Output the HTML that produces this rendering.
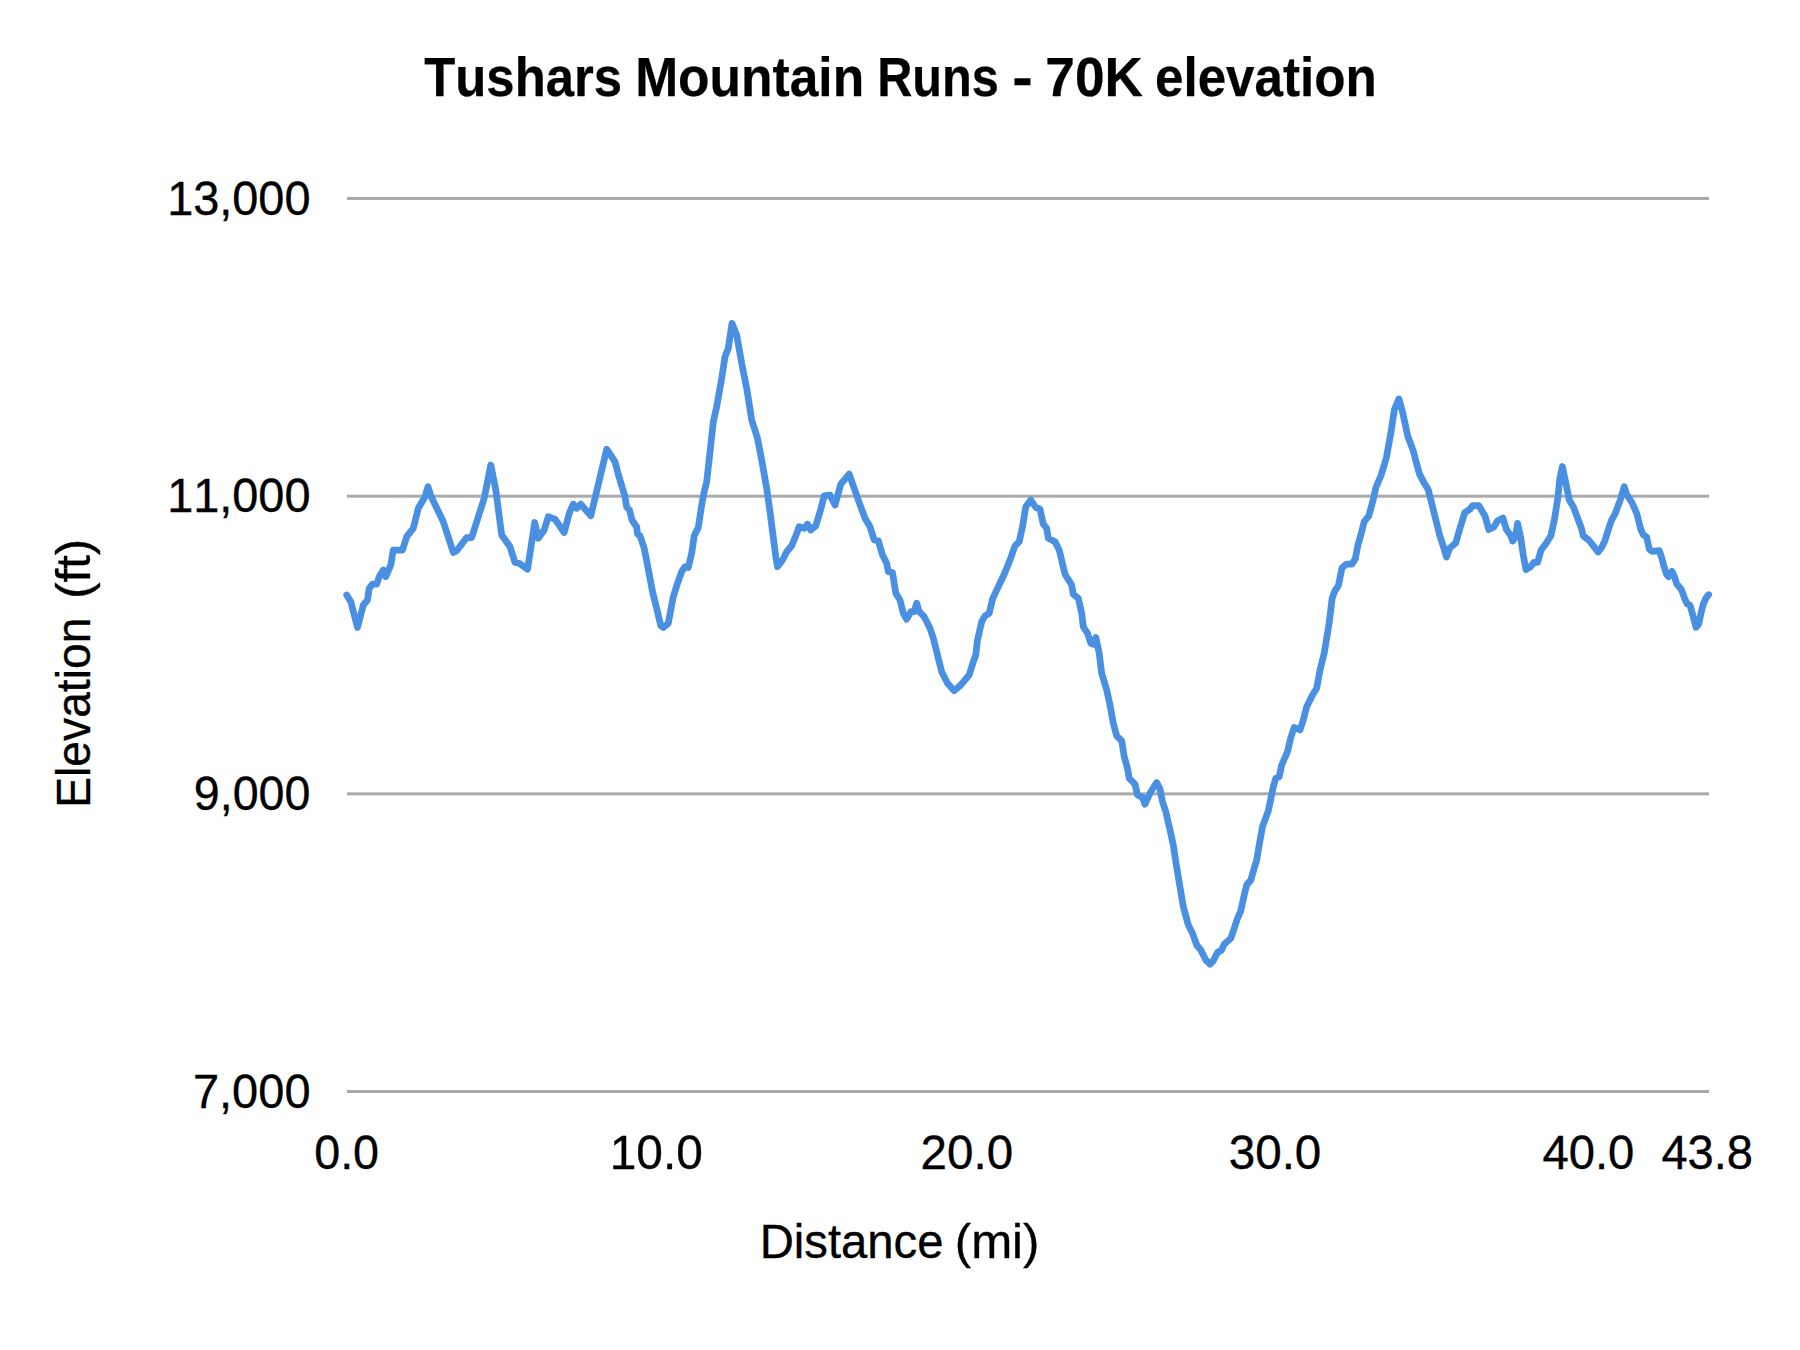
<!DOCTYPE html>
<html lang="en">
<head>
<meta charset="utf-8">
<title>Tushars Mountain Runs - 70K elevation</title>
<style>
html,body{margin:0;padding:0;background:#fff;}
body{width:1800px;height:1350px;overflow:hidden;}
svg{display:block;}
text{font-family:"Liberation Sans",Arial,Helvetica,sans-serif;fill:#000;font-kerning:none;font-size:48.2px;stroke:#000;stroke-width:0.35px;stroke-linejoin:round;}
.title text{font-weight:bold;font-size:55.1px;stroke-width:0.25px;}
</style>
</head>
<body>
<svg width="1800" height="1350" viewBox="0 0 1800 1350">
<rect x="0" y="0" width="1800" height="1350" fill="#ffffff"/>
<g class="title">
<text y="96"><tspan x="424.23" textLength="197.86" lengthAdjust="spacingAndGlyphs">Tushars</tspan> <tspan x="635.15" textLength="229.04" lengthAdjust="spacingAndGlyphs">Mountain</tspan> <tspan x="877.14" textLength="121.65" lengthAdjust="spacingAndGlyphs">Runs</tspan> <tspan x="1012.20" textLength="20.46" lengthAdjust="spacingAndGlyphs">-</tspan> <tspan x="1045.31" textLength="97.58" lengthAdjust="spacingAndGlyphs">70K</tspan> <tspan x="1155.00" textLength="221.77" lengthAdjust="spacingAndGlyphs">elevation</tspan></text>
</g>
<g class="grid">
<rect x="347" y="197.00" width="1362" height="3" fill="#aaaaaa"/>
<rect x="347" y="494.70" width="1362" height="3" fill="#aaaaaa"/>
<rect x="347" y="792.35" width="1362" height="3" fill="#aaaaaa"/>
<rect x="347" y="1090.00" width="1362" height="3" fill="#aaaaaa"/>
</g>
<g class="yaxis">
<text transform="translate(167.13,214.9) scale(0.9727,1)">13,000</text>
<text transform="translate(167.13,511.8) scale(0.9727,1)">11,000</text>
<text transform="translate(193.81,809.7) scale(0.9676,1)">9,000</text>
<text transform="translate(192.89,1107.7) scale(0.9754,1)">7,000</text>
</g>
<g class="xaxis">
<text transform="translate(314.17,1168.6) scale(0.9693,1)">0.0</text>
<text transform="translate(609.65,1168.6) scale(0.9937,1)">10.0</text>
<text transform="translate(920.61,1168.6) scale(0.9860,1)">20.0</text>
<text transform="translate(1228.69,1168.6) scale(0.9879,1)">30.0</text>
<text transform="translate(1542.42,1168.6) scale(0.9799,1)">40.0</text>
<text transform="translate(1661.42,1168.6) scale(0.9767,1)">43.8</text>
</g>
<g class="axis-titles">
<text y="1258.3"><tspan x="759.73" textLength="183.77" lengthAdjust="spacingAndGlyphs">Distance</tspan> <tspan x="954.75" textLength="84.70" lengthAdjust="spacingAndGlyphs">(mi)</tspan></text>
<text transform="translate(90.2,0) rotate(-90)" y="0"><tspan x="-807.79" textLength="190.20" lengthAdjust="spacingAndGlyphs">Elevation</tspan> <tspan x="-598.85" textLength="60.10" lengthAdjust="spacingAndGlyphs">(ft)</tspan></text>
</g>
<polyline fill="none" stroke="#4a90e2" stroke-width="6.75" stroke-linejoin="round" stroke-linecap="round" points="346.7,595 350.8,601.7 357.5,627.5 363.3,605 367.5,600 369.2,588.3 372.5,584.2 376.7,584.2 379.2,576.7 383.3,570 385.8,576.7 390.8,565 393.3,550 402.5,550 406.7,536.7 413.3,528.3 418.3,508.3 425,496.7 428,486.7 430.8,495.8 443.3,521.7 453.3,552.5 456.7,550.8 466.7,537.5 471.7,537.5 478.3,516.7 484.2,498.3 490.8,465 495.8,490 501.7,535 510,546.7 515,562.5 519.2,563.3 527.5,569.2 530.8,548.3 534.7,522.5 538.3,538.3 544.2,530 548.3,516.7 555,519.2 564.2,532.5 569.2,513.3 573.3,504.2 576.7,508.3 580.8,504.2 590.8,515.8 595,498.3 606.7,449.2 615,461.7 618.2,474 625,496.7 626.7,507 629.5,510 632,520 636.7,527 637.5,534 640,535.8 644.2,548.3 647.5,565 652.5,591.7 656.7,608.3 660.8,625.8 663.3,627.5 668.3,623.3 671.7,605 673.3,596.7 677.5,583.3 681.7,571.7 685,566.7 688.3,567.5 691.7,553.3 694.2,535.8 698.3,527.5 701.7,505 704.2,491.7 706.7,481.7 710.8,445 713.3,421.7 716.7,406.7 721.7,378.3 725,356.7 728.3,348.3 732,323.3 736.7,335 741.7,363.3 746.7,388.3 751.7,420 757.5,438.3 761.7,460 766.7,488.3 770,511.7 771.7,525 775.8,556.7 777.5,566.7 782.5,560 786.7,551.7 791.7,545.8 795.8,535.8 799.2,526.7 804.2,528.3 807.5,524.2 810.8,530 815.8,525.8 820.8,509.2 824.2,495.8 830,495 835,505 840.8,484.2 849.2,474.2 858.3,500 865,518.3 870,526.7 874.2,540 878.3,540.8 882.5,555 886.7,563.3 888.3,571.7 892.5,572.5 895.8,593.3 900,600 903.3,613.3 906.7,619.2 910.8,611.7 914.2,611.7 916.7,603.3 919.2,611.7 924.2,616.7 930,628.3 933.3,638.3 938.3,658.3 941.7,671.7 947.5,683.3 954.2,690.8 960,685.8 964.2,680.8 969.2,675 973.3,661.7 975.8,655 977.5,640 981.7,621.7 985,615.8 989.2,613.3 992.5,599.2 998.3,586.7 1004.2,574.2 1010,560 1015,545.8 1019.2,541.7 1022.5,526.7 1025.8,506.7 1030.8,500 1035.8,507.5 1040,509.2 1043.3,524.2 1046.7,528.3 1048.3,538.3 1055,541.7 1059.2,550 1065,574.2 1071.7,585 1073.3,594.2 1078.3,598.3 1081.7,613.3 1083.3,626.7 1087.5,633.3 1090.8,643.3 1093.3,644.2 1095.8,637.5 1099.2,653.3 1101.7,673.3 1106.7,690 1110,705 1113.3,723.3 1116.7,735.8 1121.7,740.8 1124.2,756.7 1127.5,768.3 1129.2,778.3 1135,784.2 1137.5,795 1142.5,797.5 1145,804.2 1150.8,791.7 1156.7,782.5 1160,789 1162.5,801.7 1165.8,811.7 1170,830 1173.3,845 1175.8,861.7 1178.3,876.7 1180.8,891.7 1183.3,906.7 1188.3,925 1192.5,933.3 1196.7,945 1200.8,950 1205.8,960 1210,964.2 1213.3,960.8 1217.5,952.5 1221.7,950 1224.2,944.2 1230.8,938.3 1234.2,928.3 1237.5,918.3 1240.8,910.8 1244.2,895 1246.7,885 1250.8,880 1254.2,868.3 1256.7,860 1259.2,845 1262.5,826.7 1268.3,810.8 1270.8,799 1273.3,786.7 1275.8,778.3 1279.2,776.7 1281.7,765 1287.5,751.7 1290.8,737.5 1294.2,727.5 1300,730 1303.3,720 1306.7,706.7 1312.5,695 1316.7,688.3 1320,670 1324.2,653.3 1327.5,633.3 1329.2,622.5 1332.2,598 1334.9,590.9 1338.4,585.6 1342,567.8 1346.4,564.2 1351.8,564.2 1355.3,558.9 1358,544.7 1361.6,532.2 1364.2,521.6 1368.7,516.2 1373.1,500.2 1375.8,487.8 1381.1,475.3 1386.4,457.6 1390.9,432.7 1394.4,409.6 1398.9,398.9 1402.4,411.3 1407.8,436.2 1413.1,450.4 1419.3,473.6 1423.8,482.4 1428.2,489.6 1432.7,507.3 1439.8,535.8 1443.3,546.4 1446.5,557.1 1449.6,548.2 1455.8,542.9 1459.3,530.4 1464.7,512.7 1470,509.1 1472.7,505.6 1478.9,505.6 1485.1,516.2 1488.7,529.6 1494,526.9 1497.6,520.7 1502.9,518 1506.4,529.6 1510.9,535.8 1512.7,541.1 1515.3,537.6 1517.6,523.3 1520.7,537.6 1523.3,555.3 1526,569.6 1530.4,566.9 1534,562.4 1537.6,562.4 1541.1,550 1546.4,542.9 1550.9,535.8 1554.4,519.8 1558,496.7 1559.8,478.9 1562.4,466.5 1566,484 1569.3,500 1573.3,506.7 1577.3,517.3 1581.3,528 1583.3,536 1588.7,540 1594,546.7 1598,552 1601.3,548 1604.7,541.3 1608,530.7 1611.3,520.7 1615.3,513.3 1620,500.7 1622.7,492 1624.3,486.7 1626.7,494.7 1632,502.7 1636.7,513.3 1640.7,529.3 1643.3,534.7 1646.7,537.3 1649.3,549.3 1652,551.3 1659.3,550.7 1662,558.7 1664,566.7 1666.7,574.7 1668.7,576.7 1672,571.3 1674.7,577.3 1676.7,584 1681.3,589.3 1684.7,598.7 1687.3,604 1690,605.3 1692.7,614.7 1696,627.3 1698.7,624 1701.3,612 1703.3,604 1706,598 1708.7,594.7"/>
</svg>
</body>
</html>
